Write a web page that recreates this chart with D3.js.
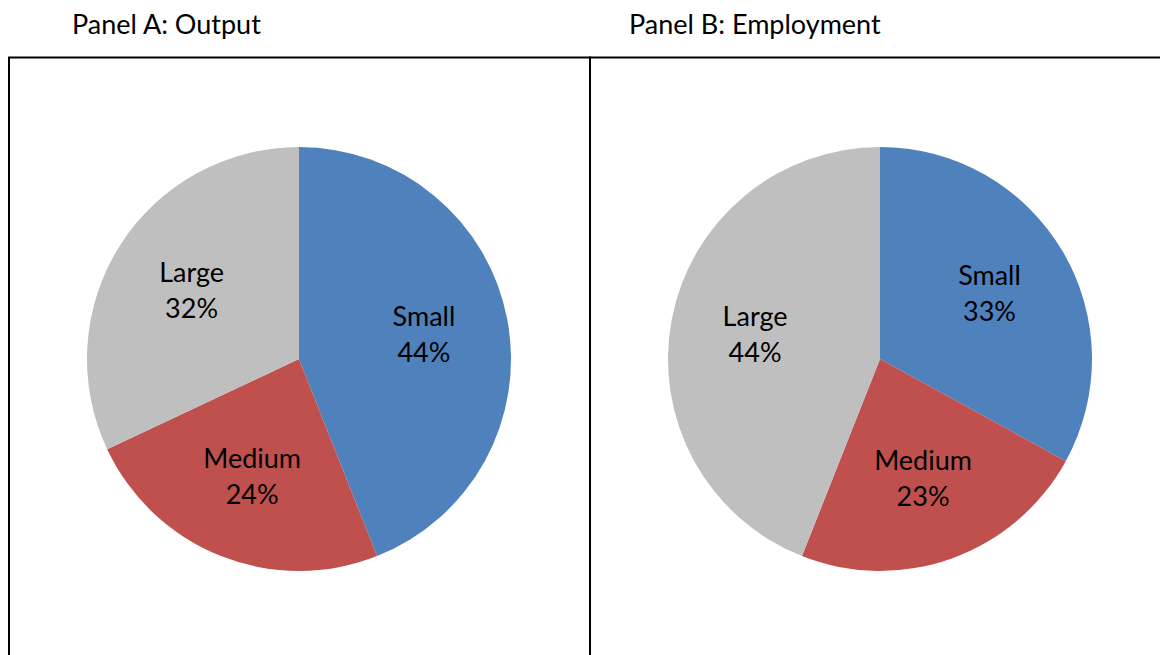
<!DOCTYPE html>
<html>
<head>
<meta charset="utf-8">
<script src="https://cdn.jsdelivr.net/npm/d3@7"></script>
<style>
  html, body { margin: 0; padding: 0; background: #fff; }
  svg { display: block; }
  text { font-family: Lato, "Open Sans", sans-serif; fill: #000; }
</style>
</head>
<body>
<svg id="chart" width="1160" height="655"></svg>
<script>
// Size classes of firms
const categories = ["Small", "Medium", "Large"];
// Shares (%) of output and employment by firm size
const outputShares = [44, 24, 32];
const employmentShares = [33, 23, 44];
const panelTitles = ["Panel A: Output", "Panel B: Employment"];
const sliceColors = ["#4F81BD", "#C0504D", "#BFBFBF"];

const svg = d3.select("#chart");
const W = 1160, H = 655;

const color = d3.scaleOrdinal().domain(categories).range(sliceColors);

// Panel frames
const frameTop = 57.5;
const panels = [
  { title: panelTitles[0], values: outputShares, x0: 9, x1: 590, titleX: 72, cx: 299 },
  { title: panelTitles[1], values: employmentShares, x0: 590, x1: 1162, titleX: 629, cx: 880 }
];

const R = 212, cy = 359;
const pie = d3.pie().sort(null).value(d => d.value);
const arc = d3.arc().innerRadius(0).outerRadius(R);
const labelArc = d3.arc().innerRadius(R * 0.6).outerRadius(R * 0.6);

panels.forEach(p => {
  svg.append("text")
    .attr("x", p.titleX)
    .attr("y", 34)
    .attr("font-size", 27)
    .text(p.title);

  svg.append("rect")
    .attr("x", p.x0)
    .attr("y", frameTop)
    .attr("width", p.x1 - p.x0)
    .attr("height", H + 10)
    .attr("fill", "none")
    .attr("stroke", "#000")
    .attr("stroke-width", 2);

  const data = categories.map((c, i) => ({ name: c, value: p.values[i] }));
  const g = svg.append("g").attr("transform", `translate(${p.cx},${cy})`);
  const arcs = pie(data);

  g.selectAll("path")
    .data(arcs)
    .join("path")
    .attr("d", arc)
    .attr("fill", d => color(d.data.name));

  const lbl = g.selectAll("text.lbl")
    .data(arcs)
    .join("text")
    .attr("class", "lbl")
    .attr("text-anchor", "middle")
    .attr("font-size", 27)
    .attr("transform", d => `translate(${labelArc.centroid(d)})`);
  lbl.append("tspan").attr("x", 0).attr("y", -9).text(d => d.data.name);
  lbl.append("tspan").attr("x", 0).attr("y", 27).text(d => d.data.value + "%");
});
</script>
</body>
</html>
